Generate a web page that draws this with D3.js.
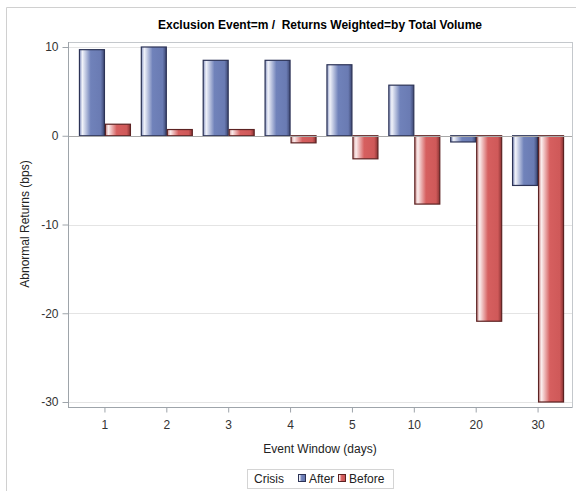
<!DOCTYPE html>
<html>
<head>
<meta charset="utf-8">
<script src="https://cdn.jsdelivr.net/npm/d3@7"></script>
<style>
  body { margin: 0; background: #fff; }
  text { font-family: "Liberation Sans", Arial, sans-serif; }
</style>
</head>
<body>
<svg id="chart" width="576" height="493"></svg>
<script>
const windows = ['1', '2', '3', '4', '5', '10', '20', '30']
const crisisGroups = ['After', 'Before']
const afterValues = [9.7, 10.0, 8.5, 8.5, 8.0, 5.7, -0.7, -5.6]
const beforeValues = [1.3, 0.7, 0.7, -0.8, -2.6, -7.7, -20.9, -30.0]
const yTicks = [-30, -20, -10, 0, 10]

const PLOT = { left: 68, right: 572, top: 42, bottom: 407 }

const svg = d3.select('#chart')

// gradients for the shaded bars
const defs = svg.append('defs')
const shades = {
    After: ['#8592c0', '#f1f3fa', '#7082ba', '#6a7bb3', '#3e4873'],
    Before: ['#c98a8a', '#fbeded', '#d65f5f', '#cf5959', '#8a3333']
}
crisisGroups.forEach(g => {
    const grad = defs.append('linearGradient').attr('id', 'grad-' + g)
    const offs = [0, 0.12, 0.45, 0.85, 1]
    offs.forEach((o, i) => grad.append('stop').attr('offset', o).attr('stop-color', shades[g][i]))
})
const strokeCol = { After: '#2c3356', Before: '#5c2222' }

// outer frame
svg.append('path')
    .attr('d', 'M6.5,491 L6.5,7.5 L576,7.5')
    .attr('fill', 'none')
    .attr('stroke', '#d0d0d0')

const x = d3.scaleBand()
    .domain(windows)
    .range([74, 569])
    .paddingInner(0.16)
    .paddingOuter(0.08)

const xSub = d3.scaleBand()
    .domain(crisisGroups)
    .range([0, x.bandwidth()])

const y = d3.scaleLinear()
    .domain([-30, 10])
    .range([402, 47])

// grid
svg.append('g')
    .selectAll('line')
    .data(yTicks.filter(t => t !== 0))
    .enter()
    .append('line')
    .attr('x1', PLOT.left).attr('x2', PLOT.right)
    .attr('y1', d => Math.round(y(d)) + 0.5)
    .attr('y2', d => Math.round(y(d)) + 0.5)
    .attr('stroke', '#e4e4e4')

// plot frame
svg.append('rect')
    .attr('x', PLOT.left + 0.5).attr('y', PLOT.top + 0.5)
    .attr('width', PLOT.right - PLOT.left).attr('height', PLOT.bottom - PLOT.top)
    .attr('fill', 'none')
    .attr('stroke', '#c4c8cc')

// bars
const rows = windows.map((w, i) => ({ w, After: afterValues[i], Before: beforeValues[i] }))
const groups = svg.append('g')
    .selectAll('g')
    .data(rows)
    .enter()
    .append('g')
    .attr('transform', d => `translate(${x(d.w)},0)`)

groups.selectAll('rect')
    .data(d => crisisGroups.map(g => ({ g, v: d[g] })))
    .enter()
    .append('rect')
    .attr('x', d => xSub(d.g) + 0.5)
    .attr('width', xSub.bandwidth() - 1)
    .attr('y', d => Math.min(y(d.v), y(0)))
    .attr('height', d => Math.abs(y(d.v) - y(0)))
    .attr('fill', d => `url(#grad-${d.g})`)
    .attr('stroke', d => strokeCol[d.g])
    .attr('stroke-width', 1.2)

// zero reference line
svg.append('line')
    .attr('x1', PLOT.left).attr('x2', PLOT.right)
    .attr('y1', Math.round(y(0)) + 0.5).attr('y2', Math.round(y(0)) + 0.5)
    .attr('stroke', '#a8a8a8')

// y axis
const yAxis = svg.append('g')
    .attr('transform', `translate(${PLOT.left + 0.5},0)`)
    .call(d3.axisLeft(y).tickValues(yTicks).tickSize(6).tickPadding(4).tickFormat(d => String(d)))
yAxis.select('.domain').attr('stroke', '#9ea4aa').attr('d', `M0,${PLOT.top}V${PLOT.bottom}`)
yAxis.selectAll('.tick line').attr('stroke', '#9ea4aa')
yAxis.selectAll('.tick text').attr('fill', '#333').style('font-size', '12px')

// x axis
const xAxis = svg.append('g')
    .attr('transform', `translate(0,${PLOT.bottom + 0.5})`)
    .call(d3.axisBottom(x).tickSize(5).tickPadding(8))
xAxis.select('.domain').attr('stroke', '#9ea4aa').attr('d', `M${PLOT.left},0H${PLOT.right}`)
xAxis.selectAll('.tick line').attr('stroke', '#9ea4aa')
xAxis.selectAll('.tick text').attr('fill', '#333').style('font-size', '12px')

// title and axis labels
svg.append('text')
    .attr('x', 320).attr('y', 29)
    .attr('text-anchor', 'middle')
    .attr('xml:space', 'preserve')
    .style('font-size', '12px').style('font-weight', 'bold')
    .attr('fill', '#000')
    .text('Exclusion Event=m /  Returns Weighted=by Total Volume')

svg.append('text')
    .attr('transform', 'translate(29,224) rotate(-90)')
    .attr('text-anchor', 'middle')
    .style('font-size', '12px')
    .attr('fill', '#222')
    .text('Abnormal Returns (bps)')

svg.append('text')
    .attr('x', 320).attr('y', 453)
    .attr('text-anchor', 'middle')
    .style('font-size', '12px')
    .attr('fill', '#222')
    .text('Event Window (days)')

// legend
const legend = svg.append('g').attr('transform', 'translate(247,469)')
legend.append('rect')
    .attr('x', 0.5).attr('y', 0.5)
    .attr('width', 146).attr('height', 19)
    .attr('fill', '#fff')
    .attr('stroke', '#d4d4d4')
legend.append('text')
    .attr('x', 7).attr('y', 14)
    .style('font-size', '12px').attr('fill', '#222')
    .text('Crisis')
const legendPos = { After: 51, Before: 91 }
crisisGroups.forEach(g => {
    legend.append('rect')
        .attr('x', legendPos[g] + 0.5).attr('y', 5.5)
        .attr('width', 7).attr('height', 7)
        .attr('fill', `url(#grad-${g})`)
        .attr('stroke', strokeCol[g])
    legend.append('text')
        .attr('x', legendPos[g] + 11).attr('y', 14)
        .style('font-size', '12px').attr('fill', '#222')
        .text(g)
})
</script>
</body>
</html>
